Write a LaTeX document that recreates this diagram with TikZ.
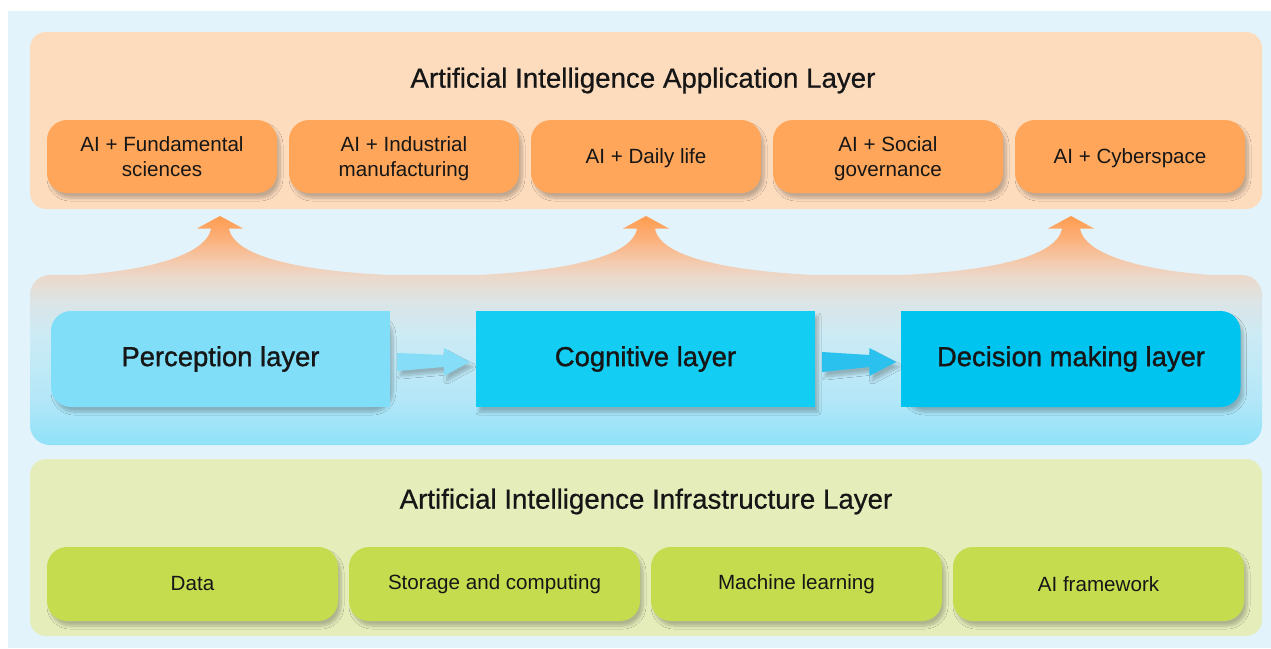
\documentclass[tikz,border=0pt]{standalone}
\usepackage{fontspec}
\setmainfont{Liberation Sans}
\newfontfamily\medfont[FakeBold=1.2]{Liberation Sans}
\newfontfamily\titlefont[FakeBold=0.7]{Liberation Sans}
\usetikzlibrary{shadows.blur,calc}
\definecolor{bgblue}{HTML}{E2F3FB}
\definecolor{appbg}{HTML}{FDDCBE}
\definecolor{appbox}{HTML}{FFA65A}
\definecolor{infbg}{HTML}{E5EDBB}
\definecolor{infbox}{HTML}{C6DC4F}
\definecolor{perccol}{HTML}{80DEF8}
\definecolor{cogcol}{HTML}{14CDF3}
\definecolor{deccol}{HTML}{00C4F0}
\definecolor{arrA}{HTML}{86DDF7}
\definecolor{arrB}{HTML}{2AC1EE}
\definecolor{txt}{HTML}{161616}
\definecolor{sA}{HTML}{FF9A4B}
\definecolor{sB}{HTML}{FBB27E}
\definecolor{sC}{HTML}{F3CBAF}
\definecolor{sD}{HTML}{EBD9CC}
\definecolor{sE}{HTML}{DCE4E5}
\definecolor{sF}{HTML}{CCEBF5}
\definecolor{sG}{HTML}{B3E7F8}
\definecolor{sH}{HTML}{8EE1F8}
\newcommand\bandshade{%
  \shade[top color=sA,bottom color=sB] (0,214) rectangle (1271,240.5);
  \shade[top color=sB,bottom color=sC] (0,240) rectangle (1271,262.5);
  \shade[top color=sC,bottom color=sD] (0,262) rectangle (1271,277.5);
  \shade[top color=sD,bottom color=sE] (0,277) rectangle (1271,300.5);
  \shade[top color=sE,bottom color=sF] (0,300) rectangle (1271,335.5);
  \shade[top color=sF,bottom color=sG] (0,335) rectangle (1271,400.5);
  \shade[top color=sG,bottom color=sH] (0,400) rectangle (1271,447);
}
\tikzset{
  smalltext/.style={font=\fontsize{20.6}{25}\selectfont, text=txt, align=center},
  titletext/.style={font=\titlefont\fontsize{27.7}{32}\selectfont, text=txt},
  bigtext/.style={font=\medfont\fontsize{27.4}{32}\selectfont, text=txt},
  softshadow/.style={blur shadow={shadow xshift=3pt, shadow yshift=-5pt, shadow blur radius=3pt, shadow blur steps=8, shadow opacity=24}},
  appboxstyle/.style={smalltext, fill=appbox, rounded corners=20pt, minimum width=230pt, minimum height=73pt, inner sep=0pt, text depth=0pt, softshadow},
  infboxstyle/.style={smalltext, fill=infbox, rounded corners=20pt, minimum width=291pt, minimum height=74pt, inner sep=0pt, softshadow},
  layerbox/.style={bigtext, minimum width=339pt, minimum height=96pt, inner sep=0pt, softshadow},
}
\begin{document}
\begin{tikzpicture}[x=1pt,y=-1pt]
\useasboundingbox (0,0) rectangle (1271,648);
\fill[white] (0,0) rectangle (1271,648);
\fill[bgblue] (8,11) rectangle (1271,648);

% application layer
\fill[appbg, rounded corners=16pt] (30,32) rectangle (1262,209);
\node[titletext] (apptitle) at (643,80.5) {Artificial Intelligence Application Layer};
\node[appboxstyle] (a1) at (162,156.5) {AI + Fundamental\\sciences};
\node[appboxstyle] (a2) at (404,156.5) {AI + Industrial\\manufacturing};
\node[appboxstyle] (a3) at (646,156.5) {AI + Daily life};
\node[appboxstyle] (a4) at (888,156.5) {AI + Social\\governance};
\node[appboxstyle] (a5) at (1130,156.5) {AI + Cyberspace};

% upward flared arrows
\foreach \cx/\L/\R in {220/170/210, 646/210/210, 1071/210/170} {
  \begin{scope}
    \clip (\cx,216) -- ({\cx+23},228.5) -- ({\cx+9},228.5)
      .. controls ({\cx+14},258) and ({\cx+86},274) .. ({\cx+\R},276.5)
      -- ({\cx-\L},276.5)
      .. controls ({\cx-86},274) and ({\cx-14},258) .. ({\cx-9},228.5)
      -- ({\cx-23},228.5) -- cycle;
    \bandshade
  \end{scope}
}

% middle panel
\begin{scope}
  \clip[rounded corners=20pt] (30,275) rectangle (1262,445);
  \bandshade
\end{scope}

\node[layerbox, fill=perccol, rounded corners=20pt] (perc) at (220.5,359) {Perception layer};
\fill[perccol] ($(perc.north east)+(-25,0)$) rectangle (perc.south east);
\node[layerbox, fill=cogcol] (cog) at (645.5,359) {Cognitive layer};
\node[layerbox, fill=deccol, rounded corners=20pt] (dec) at (1071,359) {Decision making layer};
\fill[deccol] (dec.north west) rectangle ($(dec.south west)+(25,0)$);

\fill[arrA, softshadow] ($(perc.east)+(7,-6)$) -- ($(cog.west)+(-32,-4)$) -- ($(cog.west)+(-32,-11)$)
  -- ($(cog.west)+(-6,3)$) -- ($(cog.west)+(-32,17)$) -- ($(cog.west)+(-32,8)$) -- ($(perc.east)+(7,12)$) -- cycle;
\fill[arrB, softshadow] ($(cog.east)+(7,-7)$) -- ($(dec.west)+(-32,-4)$) -- ($(dec.west)+(-32,-11)$)
  -- ($(dec.west)+(-5,3)$) -- ($(dec.west)+(-32,17)$) -- ($(dec.west)+(-32,8)$) -- ($(cog.east)+(7,13)$) -- cycle;

% infrastructure layer
\fill[infbg, rounded corners=16pt] (30,459) rectangle (1262,636);
\node[titletext] (inftitle) at (646,501.5) {Artificial Intelligence Infrastructure Layer};
\node[infboxstyle] (i1) at (192.5,584) {Data};
\node[infboxstyle] (i2) at (494.5,584) {Storage and computing};
\node[infboxstyle] (i3) at (796.5,584) {Machine learning};
\node[infboxstyle] (i4) at (1098.5,584) {AI framework};
\end{tikzpicture}
\end{document}
